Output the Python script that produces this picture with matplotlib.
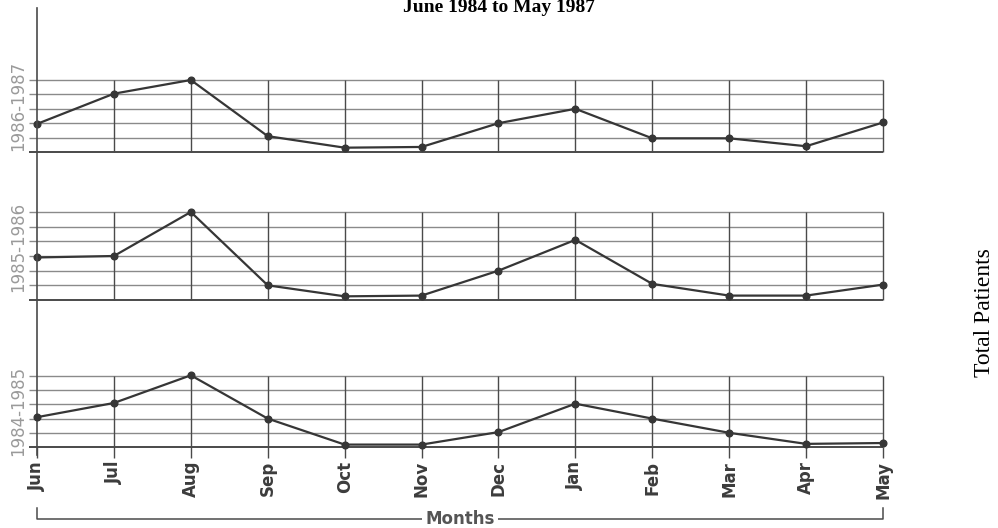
import matplotlib
matplotlib.use("Agg")
import matplotlib.pyplot as plt
import matplotlib.transforms as mtransforms

# ---- data (grid units) ----
months = ["Jun", "Jul", "Aug", "Sep", "Oct", "Nov", "Dec", "Jan", "Feb", "Mar", "Apr", "May"]
season_labels = ["1986-1987", "1985-1986", "1984-1985"]
vals_1986_1987 = [1.95, 4.05, 5.0, 1.1, 0.3, 0.35, 2.0, 3.0, 0.95, 0.95, 0.4, 2.05]
vals_1985_1986 = [2.9, 3.0, 6.0, 1.0, 0.25, 0.3, 2.0, 4.1, 1.1, 0.3, 0.3, 1.05]
vals_1984_1985 = [2.1, 3.1, 5.05, 2.0, 0.17, 0.17, 1.05, 3.05, 2.0, 1.0, 0.22, 0.28]
grid_levels = [5, 6, 5]

W, H = 998, 528
fig = plt.figure(figsize=(W / 100, H / 100), dpi=100)
fig.patch.set_facecolor("white")

x = list(range(len(months)))
unit = (883 - 37) / 11.0
xlo, xhi = -0.1, 11.02
left_px = 37 + xlo * unit
right_px = 37 + xhi * unit

# panel pixel extents (top, bottom)
panel_px = [(80, 152), (212, 300), (376, 447)]
series = [vals_1986_1987, vals_1985_1986, vals_1984_1985]
label_centers = [106, 247, 411]

line_col = "#363636"
axes = []
for i, (vals, nlev, (ytop, ybot)) in enumerate(zip(series, grid_levels, panel_px)):
    ax = fig.add_axes([left_px / W, 1 - ybot / H, (right_px - left_px) / W, (ybot - ytop) / H])
    ax.set_xlim(xlo, xhi)
    ax.set_ylim(0, nlev)
    for s in ax.spines.values():
        s.set_visible(False)
    ax.set_facecolor("none")
    # horizontal grid
    ax.hlines(list(range(1, nlev + 1)), xlo, x[-1], colors="#8a8a8a", linewidth=1.0, clip_on=False, zorder=1)
    ax.hlines([0], xlo, x[-1], colors="#3c3c3c", linewidth=1.3, clip_on=False, zorder=2)
    # vertical month lines
    ax.vlines(x[1:], 0, nlev, colors="#4a4a4a", linewidth=1.0, clip_on=False, zorder=2)
    # data
    ax.plot(x, vals, "-o", color=line_col, linewidth=1.6, markersize=4.8, clip_on=False, zorder=4)
    ax.set_yticks([])
    if i < 2:
        ax.set_xticks([])
    else:
        ax.set_xticks(x)
        ax.set_xticklabels(months, rotation=90, fontsize=12, fontweight="bold",
                           color="#3c3c3c", family="DejaVu Sans")
        ax.tick_params(axis="x", direction="out", length=8, width=1.0, color="#4a4a4a", pad=2)
    fig.text(18 / W, 1 - label_centers[i] / H, season_labels[i], rotation=90, ha="center", va="center",
             fontsize=12, color="#9a9a9a", family="DejaVu Sans")
    axes.append(ax)

axb = axes[-1]
trans = mtransforms.blended_transform_factory(axb.transData, fig.transFigure)
# main vertical axis line
axb.plot([0, 0], [1 - 8 / H, 1 - 455 / H], color="#4a4a4a", linewidth=1.2, transform=trans, clip_on=False)

# Months bracket
yb = 1 - 519 / H
ye = 1 - 508 / H
axb.plot([0, 0, x[-1], x[-1]], [ye, yb, yb, ye], color="#4a4a4a", linewidth=1.1,
         transform=trans, clip_on=False)
axb.text(5.5, yb, "Months", transform=trans, ha="center", va="center", fontsize=12,
         fontweight="bold", color="#555555", family="DejaVu Sans",
         bbox=dict(facecolor="white", edgecolor="none", pad=2.0), clip_on=False)

# title and right label
fig.text(0.5, 1 - 12 / H, "June 1984 to May 1987", ha="center", va="baseline",
         fontsize=14, fontweight="bold", family="Liberation Serif", color="black")
fig.text(984 / W, 1 - 313 / H, "Total Patients", rotation=90, ha="center", va="center",
         fontsize=17, family="Liberation Serif", color="black")

fig.savefig("out.png", dpi=100, facecolor="white")
